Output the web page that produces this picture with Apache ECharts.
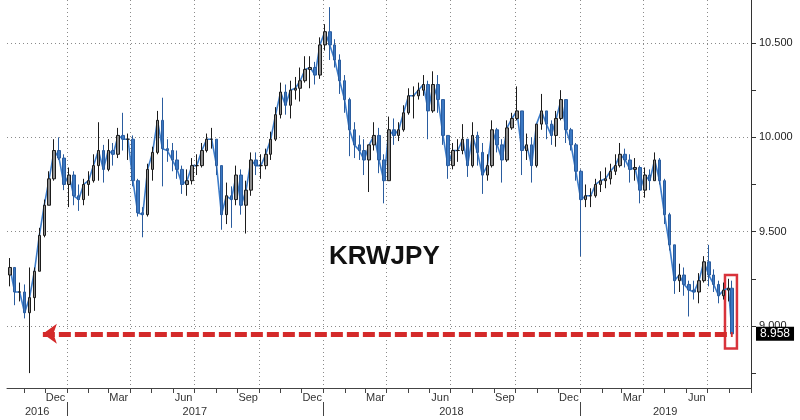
<!DOCTYPE html>
<html>
<head>
<meta charset="utf-8">
<title>KRWJPY</title>
<script src="https://cdn.jsdelivr.net/npm/echarts@6/dist/echarts.min.js"></script>
<style>
  html, body { margin: 0; padding: 0; background: #fff; }
  #main { width: 800px; height: 420px; }
</style>
</head>
<body>
<div id="main"></div>
<script>
// weekly KRWJPY bars (date = middle of the week)
var weeks = [
  '2016-10-12','2016-10-19','2016-10-26','2016-11-02','2016-11-09','2016-11-16','2016-11-23','2016-11-30','2016-12-07','2016-12-14','2016-12-21','2016-12-28',
  '2017-01-04','2017-01-11','2017-01-18','2017-01-25','2017-02-01','2017-02-08','2017-02-15','2017-02-22','2017-03-01','2017-03-08','2017-03-15','2017-03-22','2017-03-29',
  '2017-04-05','2017-04-12','2017-04-19','2017-04-26','2017-05-03','2017-05-10','2017-05-17','2017-05-24','2017-05-31','2017-06-07','2017-06-14','2017-06-21','2017-06-28',
  '2017-07-05','2017-07-12','2017-07-19','2017-07-26','2017-08-02','2017-08-09','2017-08-16','2017-08-23','2017-08-30','2017-09-06','2017-09-13','2017-09-20','2017-09-27',
  '2017-10-04','2017-10-11','2017-10-18','2017-10-25','2017-11-01','2017-11-08','2017-11-15','2017-11-22','2017-11-29','2017-12-06','2017-12-13','2017-12-20','2017-12-27',
  '2018-01-03','2018-01-10','2018-01-17','2018-01-24','2018-01-31','2018-02-07','2018-02-14','2018-02-21','2018-02-28','2018-03-07','2018-03-14','2018-03-21','2018-03-28',
  '2018-04-04','2018-04-11','2018-04-18','2018-04-25','2018-05-02','2018-05-09','2018-05-16','2018-05-23','2018-05-30','2018-06-06','2018-06-13','2018-06-20','2018-06-27',
  '2018-07-04','2018-07-11','2018-07-18','2018-07-25','2018-08-01','2018-08-08','2018-08-15','2018-08-22','2018-08-29','2018-09-05','2018-09-12','2018-09-19','2018-09-26',
  '2018-10-03','2018-10-10','2018-10-17','2018-10-24','2018-10-31','2018-11-07','2018-11-14','2018-11-21','2018-11-28','2018-12-05','2018-12-12','2018-12-19','2018-12-26',
  '2019-01-02','2019-01-09','2019-01-16','2019-01-23','2019-01-30','2019-02-06','2019-02-13','2019-02-20','2019-02-27','2019-03-06','2019-03-13','2019-03-20','2019-03-27',
  '2019-04-03','2019-04-10','2019-04-17','2019-04-24','2019-05-01','2019-05-08','2019-05-15','2019-05-22','2019-05-29','2019-06-05','2019-06-12','2019-06-19','2019-06-26',
  '2019-07-03','2019-07-10','2019-07-17','2019-07-24','2019-07-31','2019-08-05'
];
var open = [
  9.27,9.31,9.18,9.18,9.07,9.15,9.29,9.48,9.64,9.78,9.93,9.89,
  9.75,9.80,9.69,9.67,9.75,9.77,9.85,9.93,9.83,9.93,9.91,10.01,9.99,
  9.99,9.77,9.60,9.59,9.83,9.92,10.09,9.94,9.93,9.88,9.83,9.75,9.77,
  9.85,9.85,9.93,9.99,9.99,9.85,9.59,9.69,9.67,9.80,9.64,9.72,9.88,
  9.85,9.85,9.91,9.99,10.12,10.24,10.17,10.25,10.26,10.30,10.36,10.37,10.33,
  10.49,10.56,10.49,10.41,10.30,10.20,10.04,9.96,9.93,9.88,9.96,10.01,9.88,
  9.77,10.04,10.01,10.04,10.13,10.22,10.22,10.25,10.28,10.14,10.28,10.20,10.01,
  9.85,9.93,9.93,9.99,9.85,10.01,9.92,9.80,9.85,10.04,9.96,9.88,10.05,
  10.10,10.14,9.93,9.96,9.85,10.07,10.14,10.07,10.01,10.10,10.20,10.04,9.96,
  9.82,9.67,9.69,9.69,9.75,9.77,9.78,9.82,9.85,9.91,9.88,9.83,9.84,
  9.72,9.80,9.77,9.88,9.77,9.59,9.43,9.24,9.27,9.22,9.19,9.18,9.24,
  9.34,9.27,9.22,9.16,9.19,9.20
];
var close = [
  9.31,9.18,9.18,9.07,9.15,9.29,9.48,9.64,9.78,9.93,9.89,9.75,
  9.80,9.69,9.67,9.75,9.77,9.85,9.93,9.83,9.93,9.91,10.01,9.99,9.99,
  9.77,9.60,9.59,9.83,9.92,10.09,9.94,9.93,9.88,9.83,9.75,9.77,9.85,
  9.85,9.93,9.99,9.99,9.85,9.59,9.69,9.67,9.80,9.64,9.72,9.88,9.85,
  9.85,9.91,9.99,10.12,10.24,10.17,10.25,10.26,10.30,10.36,10.37,10.33,10.49,
  10.56,10.49,10.41,10.30,10.20,10.04,9.96,9.93,9.88,9.96,10.01,9.88,9.77,
  10.04,10.01,10.04,10.13,10.22,10.22,10.25,10.28,10.14,10.28,10.20,10.01,9.85,
  9.93,9.93,9.99,9.85,10.01,9.92,9.80,9.85,10.04,9.96,9.88,10.05,10.10,
  10.14,9.93,9.96,9.85,10.07,10.14,10.07,10.01,10.10,10.20,10.04,9.96,9.82,
  9.67,9.69,9.69,9.75,9.77,9.78,9.82,9.85,9.91,9.88,9.83,9.84,9.72,
  9.80,9.77,9.88,9.77,9.59,9.43,9.24,9.27,9.22,9.19,9.18,9.24,9.34,
  9.27,9.22,9.16,9.19,9.20,8.958
];
var low = [
  9.21,9.11,9.13,9.04,8.75,9.08,9.29,9.47,9.64,9.77,9.88,9.72,
  9.63,9.64,9.61,9.64,9.69,9.76,9.77,9.76,9.82,9.85,9.89,9.93,9.88,
  9.74,9.58,9.47,9.58,9.77,9.91,9.74,9.87,9.82,9.78,9.70,9.69,9.75,
  9.80,9.84,9.92,9.94,9.80,9.51,9.54,9.52,9.64,9.59,9.49,9.69,9.80,
  9.78,9.83,9.88,9.98,10.10,10.12,10.10,10.20,10.19,10.29,10.26,10.28,10.31,
  10.46,10.41,10.37,10.23,10.13,9.90,9.89,9.88,9.80,9.71,9.93,9.81,9.65,
  9.77,9.96,9.98,10.03,10.12,10.10,10.20,10.22,9.99,10.13,10.13,9.96,9.78,
  9.83,9.87,9.91,9.79,9.84,9.85,9.70,9.77,9.84,9.92,9.76,9.87,10.04,
  10.09,9.80,9.88,9.76,9.84,10.04,9.99,9.96,9.95,10.09,9.97,9.93,9.77,
  9.37,9.63,9.63,9.68,9.71,9.73,9.75,9.80,9.84,9.84,9.76,9.77,9.65,
  9.68,9.72,9.77,9.75,9.54,9.40,9.17,9.18,9.16,9.05,9.14,9.12,9.23,
  9.21,9.18,9.12,9.14,9.13,8.958
];
var high = [
  9.36,9.31,9.23,9.22,9.31,9.31,9.52,9.67,9.82,9.99,10.00,9.91,
  9.84,9.82,9.75,9.78,9.82,9.91,10.08,9.96,9.99,9.97,10.05,10.13,10.02,
  10.01,9.78,9.63,9.86,9.95,10.14,10.21,9.99,9.97,9.93,9.85,9.83,9.89,
  9.91,9.97,10.02,10.05,9.99,9.85,9.76,9.74,9.85,9.83,9.77,9.92,9.92,
  9.91,9.94,10.03,10.16,10.29,10.28,10.30,10.32,10.37,10.43,10.43,10.40,10.53,
  10.60,10.69,10.52,10.44,10.33,10.21,10.08,10.01,9.99,9.96,10.08,10.05,9.91,
  10.11,10.10,10.08,10.17,10.26,10.27,10.29,10.33,10.30,10.35,10.33,10.20,10.01,
  9.97,9.99,10.07,9.99,10.08,10.03,9.97,9.91,10.09,10.05,9.99,10.09,10.13,
  10.27,10.14,10.02,10.00,10.07,10.23,10.14,10.09,10.14,10.25,10.20,10.05,9.97,
  9.83,9.75,9.73,9.78,9.82,9.84,9.86,9.91,9.97,9.94,9.91,9.89,9.85,
  9.84,9.83,9.92,9.89,9.78,9.60,9.43,9.33,9.31,9.24,9.24,9.28,9.37,
  9.43,9.30,9.24,9.23,9.25,9.24
];

var lastPrice = 8.958;

// axis text
var monthLabelDates = ['2016-12-16','2017-03-16','2017-06-16','2017-09-16','2017-12-16','2018-03-16',
                       '2018-06-16','2018-09-16','2018-12-16','2019-03-16','2019-06-16'];
var monthLabelText = ['Dec','Mar','Jun','Sep','Dec','Mar','Jun','Sep','Dec','Mar','Jun'];
var yearLabelDates = ['2016-11-20','2017-07-02','2018-07-02','2019-05-02'];
var yearLabelText = ['2016','2017','2018','2019'];
var priceLabels = [9, 9.5, 10, 10.5];
var priceTicks = [8.75, 9, 9.25, 9.5, 9.75, 10, 10.25, 10.5];

// annotations (red arrow back to the 2016 low, red box on the last bars)
var arrowFrom = '2016-11-28';
var arrowTo = '2019-08-06';
var boxFrom = '2019-07-26';
var boxTo = '2019-08-12';
var boxTop = 9.27;
var boxBottom = 8.88;

var axisStart = '2016-10-08';
var axisEnd = '2019-09-01';
var yMin = 8.671;
var yMax = 10.728;

// one category per calendar day so months/years sit where they should
var days = [];
var d = new Date(axisStart + 'T00:00:00Z');
var stop = new Date(axisEnd + 'T00:00:00Z');
while (d <= stop) {
  days.push(d.toISOString().slice(0, 10));
  d.setUTCDate(d.getUTCDate() + 1);
}
var dayIndex = {};
days.forEach(function (s, i) { dayIndex[s] = i; });

var candles = weeks.map(function (w, i) {
  return [dayIndex[w], open[i], close[i], low[i], high[i]];
});
var closeLine = weeks.map(function (w, i) {
  return [dayIndex[w], close[i]];
});

function isMonthStart(v) { return v.slice(8) === '01'; }
function isQuarterStart(v) {
  return isMonthStart(v) && ['01', '04', '07', '10'].indexOf(v.slice(5, 7)) >= 0;
}
function isYearStart(v) { return v.slice(5) === '01-01'; }

var font = 'Liberation Sans';
var dotted = { color: '#8a8a8a', width: 1, type: [1, 3] };

var chart = echarts.init(document.getElementById('main'));
chart.setOption({
  animation: false,
  backgroundColor: '#ffffff',
  title: {
    text: 'KRWJPY',
    left: 329,
    top: 244,
    padding: 0,
    textStyle: { fontFamily: font, fontSize: 26, fontWeight: 'bold', color: '#111' }
  },
  grid: { left: 7, right: 49, top: 0, bottom: 32 },
  xAxis: [{
    type: 'category',
    data: days,
    boundaryGap: false,
    axisLine: { lineStyle: { color: '#444', width: 1 } },
    axisTick: {
      interval: function (i, v) { return isMonthStart(v); },
      length: 5,
      lineStyle: { color: '#444' }
    },
    axisLabel: {
      interval: function (i, v) { return monthLabelDates.indexOf(v) >= 0; },
      formatter: function (v) { return monthLabelText[monthLabelDates.indexOf(v)]; },
      margin: 4,
      fontFamily: font,
      fontSize: 11,
      color: '#333'
    },
    splitLine: {
      show: true,
      interval: function (i, v) { return isQuarterStart(v); },
      lineStyle: dotted
    }
  }, {
    // second row: years, with a separator at each new year
    type: 'category',
    data: days,
    boundaryGap: false,
    position: 'bottom',
    offset: 14,
    axisLine: { show: false },
    axisTick: {
      interval: function (i, v) { return isYearStart(v); },
      length: 14,
      lineStyle: { color: '#444' }
    },
    axisLabel: {
      interval: function (i, v) { return yearLabelDates.indexOf(v) >= 0; },
      formatter: function (v) { return yearLabelText[yearLabelDates.indexOf(v)]; },
      margin: 4,
      fontFamily: font,
      fontSize: 11,
      color: '#333'
    },
    splitLine: { show: false }
  }],
  yAxis: [{
    type: 'value',
    position: 'right',
    min: yMin,
    max: yMax,
    splitNumber: 4,
    axisLine: { show: true, lineStyle: { color: '#333' } },
    axisTick: { show: false },
    axisLabel: {
      customValues: priceLabels,
      formatter: function (v) { return v.toFixed(3); },
      margin: 8,
      fontFamily: font,
      fontSize: 11,
      color: '#222'
    },
    splitLine: { show: true, showMinLine: false, showMaxLine: false, lineStyle: dotted }
  }, {
    // only the small ticks every 0.25
    type: 'value',
    position: 'right',
    min: yMin,
    max: yMax,
    axisLine: { show: false },
    axisTick: { show: true, customValues: priceTicks, length: 5, lineStyle: { color: '#333' } },
    axisLabel: { show: false },
    splitLine: { show: false }
  }],
  series: [{
    // blue close line under the bars
    type: 'line',
    name: 'close',
    data: closeLine,
    showSymbol: false,
    z: 1,
    lineStyle: { color: '#3d7cc9', width: 1.6 },
    silent: true
  }, {
    type: 'candlestick',
    name: 'KRWJPY',
    xAxisIndex: 0,
    yAxisIndex: 0,
    data: candles,
    encode: { x: 0, y: [1, 2, 3, 4] },
    barWidth: 3,
    z: 3,
    itemStyle: {
      color: '#8d8d8d',
      color0: '#3b78c3',
      borderColor: '#1b1b1b',
      borderColor0: '#2a5c9e',
      borderWidth: 1
    },
    markLine: {
      silent: true,
      animation: false,
      precision: 3,
      symbol: ['none', 'none'],
      lineStyle: { color: '#d42a2a', width: 5, type: [12, 4] },
      label: { show: false },
      data: [
        [
          { coord: [dayIndex[arrowFrom], lastPrice], symbol: 'arrow', symbolSize: [15, 14] },
          { coord: [dayIndex[arrowTo], lastPrice], symbol: 'none' }
        ],
        {
          yAxis: lastPrice,
          lineStyle: { color: 'rgba(0,0,0,0)', width: 0 },
          label: {
            show: true,
            position: 'end',
            distance: 5,
            formatter: function () { return lastPrice.toFixed(3); },
            backgroundColor: '#000',
            color: '#fff',
            padding: [1, 4, 1, 4],
            fontFamily: font,
            fontSize: 12
          }
        }
      ]
    },
    markArea: {
      silent: true,
      itemStyle: { color: 'rgba(0,0,0,0)', borderColor: '#d8333b', borderWidth: 2.5 },
      data: [[
        { coord: [dayIndex[boxFrom], boxTop] },
        { coord: [dayIndex[boxTo], boxBottom] }
      ]]
    }
  }]
});
</script>
</body>
</html>
